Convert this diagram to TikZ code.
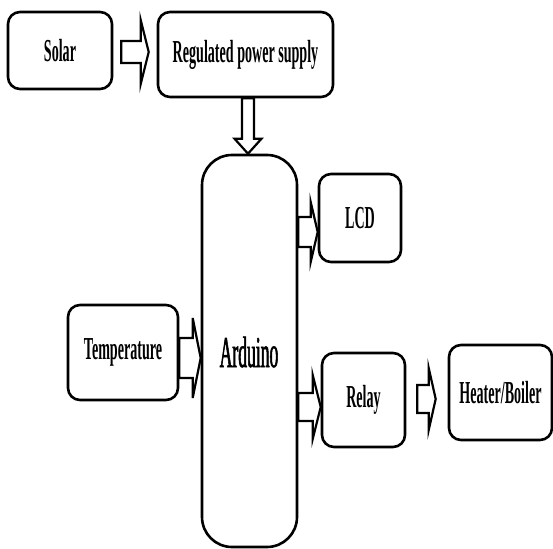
\documentclass[tikz,border=0pt]{standalone}
\usepackage{fontspec}
\setmainfont{Liberation Serif}[FakeStretch=0.44]
\newfontfamily\ardfont{Liberation Serif}[FakeStretch=0.40,FakeBold=1.2]
\usepackage{tikz}
\usetikzlibrary{calc,positioning}

\begin{document}
\begin{tikzpicture}[x=1pt,y=1pt,
    blk/.style={draw,line width=2.6pt,rounded corners=12pt,inner sep=0pt,font=\bfseries\fontsize{32}{36}\selectfont},
    harr/.style n args={3}{draw,line width=2.2pt,to path={let \p1=(\tikztostart), \p2=(\tikztotarget) in
        (\x1,\y2-#1) -- (\x2-#3,\y2-#1) -- (\x2-#3,\y2-#2) -- (\x2,\y2) -- (\x2-#3,\y2+#2) -- (\x2-#3,\y2+#1) -- (\x1,\y2+#1) -- cycle}},
    varr/.style n args={3}{draw,line width=2.2pt,to path={let \p1=(\tikztostart), \p2=(\tikztotarget) in
        (\x1-#1,\y1) -- (\x1-#1,\y2+#3) -- (\x1-#2,\y2+#3) -- (\x1,\y2) -- (\x1+#2,\y2+#3) -- (\x1+#1,\y2+#3) -- (\x1+#1,\y1) -- cycle}}]
  \useasboundingbox (0,0) rectangle (553,548);

  \node[blk,minimum width=104pt,minimum height=77pt] (solar) at (60,497.5) {Solar};
  \node[blk,minimum width=175pt,minimum height=85pt] (rps) at (245.5,493.5) {Regulated power supply};
  \node[blk,rounded corners=30pt,minimum width=95pt,minimum height=392pt] (ard) at (249.5,197) {};
  \node[font=\ardfont\fontsize{44}{48}\selectfont] (ardtxt) at (249,196) {Arduino};
  \node[blk,minimum width=82pt,minimum height=88pt] (lcd) at (360,330) {LCD};
  \node[blk,minimum width=110pt,minimum height=95pt] (temp) at (123,195.5) {Temperature};
  \node[blk,minimum width=83pt,minimum height=94pt] (relay) at (363.5,148) {Relay};
  \node[blk,minimum width=103pt,minimum height=95pt] (heater) at (500.5,155.5) {Heater/Boiler};

  % block arrows
  \draw[harr={11pt}{32pt}{8pt}] ([xshift=8pt]solar.east) to ([xshift=-8pt,yshift=2.5pt]rps.west);
  \draw[varr={6pt}{13.5pt}{15pt}] ([xshift=2.5pt]rps.south) to (ard.north);
  \draw[harr={15pt}{30pt}{7pt}] (ard.east) to ([yshift=-14pt]lcd.west);
  \draw[harr={20pt}{40pt}{8pt}] (temp.east) to ([yshift=-7pt]ard.west);
  \draw[harr={14pt}{32pt}{8pt}] (ard.east) to ([yshift=-7pt]relay.west);
  \draw[harr={14pt}{31pt}{7pt}] ([xshift=11pt]relay.east) to ([xshift=-12pt,yshift=-6.5pt]heater.west);
\end{tikzpicture}
\end{document}
